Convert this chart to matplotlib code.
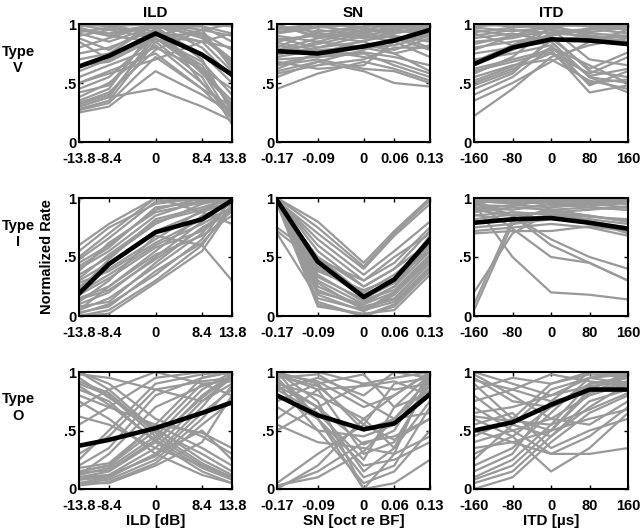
import matplotlib
matplotlib.use("Agg")
import matplotlib.pyplot as plt

plt.rcParams['font.family'] = ['Liberation Sans', 'DejaVu Sans']
plt.rcParams['font.weight'] = 'bold'

# stimulus values (x axes)
ild_x = [-13.8, -8.4, 0, 8.4, 13.8]
sn_x = [-0.17, -0.09, 0, 0.06, 0.13]
itd_x = [-160, -80, 0, 80, 160]
ild_labels = ['-13.8', '-8.4', '0', '8.4', '13.8']
sn_labels = ['-0.17', '-0.09', '0', '0.06', '0.13']
itd_labels = ['-160', '-80', '0', '80', '160']

col_titles = ['ILD', 'SN', 'ITD']
x_titles = ['ILD [dB]', 'SN [oct re BF]', 'ITD [\u00b5s]']
row_titles = ['Type\nV', 'Type\nI', 'Type\nO']

# ---- Type V ----
ild_v_gray = [
    [1.0, 0.98, 1.0, 0.95, 0.9], [0.95, 0.9, 1.0, 0.98, 0.85],
    [0.92, 0.85, 0.98, 0.9, 0.7], [0.9, 0.95, 0.88, 0.6, 0.35],
    [0.85, 0.7, 0.95, 0.62, 0.3], [0.3, 0.38, 0.92, 0.6, 0.2],
    [0.28, 0.35, 0.85, 0.55, 0.15], [0.35, 0.45, 0.98, 0.7, 0.25],
    [0.25, 0.3, 0.6, 0.4, 0.25], [0.3, 0.38, 0.45, 0.3, 0.18],
    [0.5, 0.6, 0.75, 0.45, 0.3], [0.55, 0.65, 0.8, 0.62, 0.45],
    [0.6, 0.7, 0.9, 0.85, 0.6], [0.7, 0.75, 1.0, 0.8, 0.55],
    [0.75, 0.8, 0.95, 0.75, 0.5], [0.98, 1.0, 0.9, 1.0, 0.98],
    [0.97, 0.9, 0.85, 0.95, 1.0], [0.88, 0.78, 1.0, 0.5, 0.25],
    [0.45, 0.55, 0.9, 0.92, 0.65], [0.33, 0.42, 0.78, 0.95, 0.62],
    [0.5, 0.58, 0.7, 0.85, 0.92], [0.65, 0.68, 0.88, 0.68, 0.4],
    [0.42, 0.48, 0.95, 0.58, 0.32], [0.8, 0.88, 1.0, 0.92, 0.78],
    [0.99, 0.95, 0.97, 0.98, 0.92], [0.93, 0.97, 0.94, 0.85, 0.8],
    [0.96, 0.92, 1.0, 0.88, 0.68], [0.32, 0.4, 0.88, 0.65, 0.28],
    [0.38, 0.5, 0.82, 0.5, 0.22], [0.27, 0.33, 0.72, 0.45, 0.2],
]
ild_v_mean = [0.64, 0.73, 0.92, 0.74, 0.57]

sn_v_gray = [
    [0.95, 0.98, 1.0, 0.95, 1.0], [0.9, 0.85, 0.95, 1.0, 0.98],
    [0.85, 0.92, 0.88, 0.92, 1.0], [0.8, 0.95, 0.9, 0.95, 0.9],
    [0.75, 0.85, 0.8, 0.75, 0.82], [0.7, 0.72, 0.75, 0.65, 0.55],
    [0.65, 0.7, 0.62, 0.6, 0.5], [0.6, 0.68, 0.6, 0.5, 0.47],
    [0.45, 0.58, 0.68, 0.62, 0.52], [0.58, 0.65, 0.7, 0.8, 0.8],
    [0.62, 0.75, 0.82, 0.78, 0.88], [0.98, 0.9, 0.85, 0.95, 1.0],
    [1.0, 0.88, 0.92, 0.98, 0.95], [0.88, 0.8, 0.9, 0.85, 0.72],
    [0.92, 0.97, 1.0, 0.98, 1.0], [0.72, 0.78, 0.72, 0.68, 0.58],
    [0.68, 0.62, 0.65, 0.85, 0.92], [0.82, 0.75, 0.86, 0.9, 0.85],
    [0.78, 0.88, 0.95, 0.92, 0.97], [0.55, 0.68, 0.78, 0.88, 0.9],
    [0.96, 1.0, 0.97, 0.9, 0.8], [0.74, 0.8, 0.85, 0.75, 0.6],
    [0.98, 0.93, 0.98, 1.0, 0.97], [0.93, 0.98, 0.93, 0.97, 1.0],
    [0.87, 0.9, 0.97, 0.93, 0.95], [0.84, 0.78, 0.8, 0.82, 0.9],
    [0.66, 0.74, 0.76, 0.72, 0.65], [0.77, 0.83, 0.92, 0.88, 0.78],
]
sn_v_mean = [0.77, 0.75, 0.81, 0.86, 0.95]

itd_v_gray = [
    [1.0, 0.98, 1.0, 0.98, 0.95], [0.95, 0.9, 0.98, 1.0, 0.95],
    [0.9, 0.95, 0.92, 0.95, 1.0], [0.85, 0.88, 0.95, 0.88, 0.9],
    [0.8, 0.85, 0.9, 0.6, 0.55], [0.75, 0.8, 0.85, 0.55, 0.5],
    [0.7, 0.75, 0.82, 0.48, 0.6], [0.62, 0.7, 0.78, 0.42, 0.48],
    [0.55, 0.65, 0.7, 0.52, 0.45], [0.5, 0.62, 0.75, 0.58, 0.72],
    [0.45, 0.58, 0.88, 0.62, 0.76], [0.4, 0.55, 0.8, 0.65, 0.5],
    [0.22, 0.45, 0.72, 0.82, 0.88], [0.35, 0.5, 0.68, 0.85, 0.95],
    [0.58, 0.72, 0.98, 1.0, 0.98], [0.65, 0.78, 0.92, 0.9, 0.85],
    [0.88, 0.92, 0.85, 0.55, 0.42], [0.98, 1.0, 0.95, 0.92, 0.9],
    [0.78, 0.9, 1.0, 0.98, 1.0], [0.48, 0.6, 0.86, 0.9, 0.82],
    [0.92, 0.82, 0.9, 0.96, 0.98], [0.68, 0.82, 0.96, 0.7, 0.65],
    [0.97, 0.94, 0.97, 0.93, 0.97], [0.83, 0.9, 0.93, 0.96, 0.92],
    [0.6, 0.68, 0.76, 0.5, 0.53], [0.52, 0.64, 0.8, 0.56, 0.62],
    [0.93, 0.97, 0.99, 0.9, 0.88],
]
itd_v_mean = [0.66, 0.8, 0.87, 0.86, 0.83]

# ---- Type I ----
ild_i_gray = [
    [0.0, 0.05, 0.3, 0.6, 0.95], [0.02, 0.1, 0.35, 0.65, 1.0],
    [0.05, 0.15, 0.42, 0.7, 0.98], [0.1, 0.2, 0.5, 0.8, 1.0],
    [0.15, 0.25, 0.55, 0.85, 0.95], [0.2, 0.35, 0.6, 0.78, 0.92],
    [0.25, 0.4, 0.65, 0.9, 1.0], [0.3, 0.45, 0.72, 0.88, 0.97],
    [0.35, 0.5, 0.78, 0.95, 1.0], [0.4, 0.55, 0.85, 0.98, 0.98],
    [0.45, 0.6, 0.9, 1.0, 1.0], [0.5, 0.7, 1.0, 0.98, 0.95],
    [0.55, 0.75, 0.95, 1.0, 0.98], [0.6, 0.78, 1.0, 0.88, 0.78],
    [0.12, 0.3, 0.68, 0.6, 0.3], [0.08, 0.12, 0.45, 0.75, 0.88],
    [0.0, 0.02, 0.28, 0.55, 0.92], [0.18, 0.32, 0.58, 0.72, 0.9],
    [0.22, 0.48, 0.82, 0.92, 1.0], [0.38, 0.62, 0.88, 0.96, 0.99],
    [0.28, 0.38, 0.62, 0.82, 0.9], [0.05, 0.25, 0.52, 0.68, 0.85],
    [0.03, 0.08, 0.38, 0.62, 0.9], [0.42, 0.58, 0.92, 0.97, 1.0],
    [0.32, 0.52, 0.8, 0.9, 0.96], [0.14, 0.22, 0.48, 0.74, 0.93],
    [0.48, 0.66, 0.97, 1.0, 0.99],
]
ild_i_mean = [0.19, 0.44, 0.71, 0.82, 0.98]

sn_i_gray = [
    [1.0, 0.8, 0.45, 0.72, 1.0], [1.0, 0.75, 0.42, 0.7, 0.98],
    [0.98, 0.7, 0.4, 0.68, 0.95], [1.0, 0.6, 0.3, 0.5, 0.7],
    [0.95, 0.5, 0.25, 0.4, 0.62], [1.0, 0.4, 0.2, 0.35, 0.6],
    [0.98, 0.35, 0.12, 0.25, 0.55], [1.0, 0.3, 0.1, 0.2, 0.5],
    [0.97, 0.25, 0.08, 0.15, 0.45], [1.0, 0.1, 0.0, 0.1, 0.4],
    [0.95, 0.08, 0.02, 0.05, 0.35], [0.72, 0.45, 0.15, 0.28, 0.58],
    [0.75, 0.5, 0.18, 0.3, 0.62], [0.7, 0.15, 0.05, 0.2, 0.5],
    [1.0, 0.55, 0.25, 0.4, 0.72], [0.98, 0.42, 0.16, 0.3, 0.68],
    [1.0, 0.2, 0.1, 0.25, 0.62], [0.99, 0.38, 0.22, 0.32, 0.55],
    [1.0, 0.28, 0.05, 0.12, 0.42], [0.96, 0.48, 0.3, 0.45, 0.75],
    [1.0, 0.12, 0.0, 0.08, 0.38], [0.99, 0.65, 0.35, 0.55, 0.8],
    [0.97, 0.18, 0.04, 0.18, 0.48], [1.0, 0.33, 0.14, 0.22, 0.52],
    [0.96, 0.22, 0.07, 0.14, 0.46],
]
sn_i_mean = [0.98, 0.46, 0.16, 0.31, 0.65]

itd_i_gray = [
    [1.0, 0.98, 1.0, 0.98, 0.95], [0.98, 0.95, 0.97, 1.0, 0.98],
    [0.95, 1.0, 0.96, 0.95, 0.92], [0.92, 0.9, 0.95, 0.92, 0.9],
    [0.9, 0.85, 0.88, 0.9, 0.93], [0.88, 0.92, 0.9, 0.85, 0.8],
    [0.85, 0.88, 0.86, 0.82, 0.78], [0.8, 0.82, 0.85, 0.78, 0.75],
    [0.75, 0.78, 0.82, 0.8, 0.7], [0.72, 0.75, 0.78, 0.75, 0.68],
    [0.05, 0.78, 0.85, 0.85, 0.8], [0.1, 0.82, 0.9, 0.92, 0.9],
    [0.2, 0.7, 0.88, 0.8, 0.75], [0.95, 0.85, 0.6, 0.45, 0.3],
    [0.95, 0.5, 0.2, 0.18, 0.14], [0.97, 0.74, 0.5, 0.45, 0.3],
    [0.98, 0.85, 0.65, 0.5, 0.4], [0.7, 0.72, 0.72, 0.76, 0.72],
    [0.97, 0.96, 0.98, 0.96, 1.0], [0.86, 0.8, 0.92, 0.95, 0.97],
    [0.99, 0.97, 0.98, 0.99, 0.97], [0.94, 0.93, 0.99, 0.97, 0.95],
    [0.96, 0.98, 0.94, 0.93, 0.96], [0.9, 0.94, 0.92, 0.96, 0.98],
    [0.82, 0.86, 0.88, 0.84, 0.82],
]
itd_i_mean = [0.79, 0.82, 0.83, 0.79, 0.74]

# ---- Type O ----
ild_o_gray = [
    [0.05, 0.1, 0.3, 0.7, 1.0], [0.08, 0.12, 0.35, 0.75, 0.95],
    [0.1, 0.15, 0.4, 0.8, 0.98], [0.12, 0.18, 0.45, 0.85, 1.0],
    [0.15, 0.2, 0.5, 0.9, 0.92], [0.05, 0.08, 0.25, 0.6, 0.88],
    [0.18, 0.22, 0.55, 0.95, 1.0], [0.1, 0.12, 0.28, 0.65, 0.85],
    [0.9, 0.8, 0.45, 0.2, 0.1], [0.85, 0.75, 0.4, 0.15, 0.05],
    [1.0, 0.85, 0.5, 0.3, 0.15], [0.95, 0.78, 0.52, 0.25, 0.12],
    [0.8, 0.7, 0.55, 0.35, 0.2], [1.0, 0.9, 0.6, 0.45, 0.3],
    [0.75, 0.6, 0.3, 0.12, 0.05], [0.2, 0.35, 0.8, 0.95, 1.0],
    [0.3, 0.45, 0.85, 0.92, 0.95], [0.55, 0.7, 0.95, 1.0, 0.98],
    [0.7, 0.85, 1.0, 0.9, 0.8], [0.15, 0.2, 0.55, 0.48, 0.35],
    [0.05, 0.05, 0.2, 0.4, 0.8], [0.12, 0.3, 0.7, 0.88, 0.95],
    [0.25, 0.5, 0.9, 0.98, 1.0], [0.08, 0.1, 0.3, 0.5, 0.25],
    [0.98, 0.95, 0.85, 0.75, 0.9], [0.62, 0.55, 0.35, 0.2, 0.1],
    [0.03, 0.06, 0.22, 0.55, 0.75], [0.14, 0.16, 0.42, 0.78, 0.97],
    [0.88, 0.72, 0.42, 0.18, 0.08], [0.92, 0.82, 0.48, 0.22, 0.1],
]
ild_o_mean = [0.37, 0.42, 0.52, 0.65, 0.74]

sn_o_gray = [
    [1.0, 0.9, 0.5, 0.6, 0.95], [0.98, 0.85, 0.3, 0.4, 0.9],
    [1.0, 0.75, 0.0, 0.3, 1.0], [0.95, 0.6, 0.1, 0.2, 0.7],
    [0.9, 0.5, 0.05, 0.15, 0.5], [0.85, 0.95, 0.8, 1.0, 0.95],
    [1.0, 1.0, 0.9, 0.85, 0.9], [0.98, 0.92, 0.7, 0.8, 1.0],
    [0.0, 0.2, 0.6, 0.8, 1.0], [0.05, 0.3, 0.55, 0.9, 0.95],
    [0.02, 0.15, 0.4, 0.45, 0.6], [0.5, 0.7, 0.9, 0.95, 1.0],
    [0.55, 0.4, 0.35, 0.3, 0.45], [0.8, 0.6, 0.2, 0.25, 0.4],
    [0.9, 0.8, 0.6, 0.35, 0.75], [0.75, 0.9, 0.98, 0.7, 0.82],
    [1.0, 0.6, 0.0, 0.05, 0.25], [0.7, 0.5, 0.45, 0.55, 0.85],
    [0.95, 0.98, 0.75, 0.6, 0.65], [0.85, 0.65, 0.25, 0.7, 0.98],
    [0.6, 0.85, 0.88, 0.92, 0.8], [0.92, 0.7, 0.38, 0.5, 1.0],
    [0.97, 0.88, 0.55, 0.42, 0.6], [0.03, 0.1, 0.32, 0.6, 0.88],
    [0.88, 0.7, 0.15, 0.35, 0.95],
]
sn_o_mean = [0.8, 0.63, 0.51, 0.56, 0.81]

itd_o_gray = [
    [1.0, 0.9, 0.8, 0.95, 1.0], [0.95, 0.75, 0.7, 0.9, 0.95],
    [0.9, 0.6, 0.5, 0.85, 0.98], [0.8, 0.55, 0.45, 0.7, 0.9],
    [0.7, 0.5, 0.3, 0.3, 0.35], [0.6, 0.45, 0.15, 0.35, 0.65],
    [0.5, 0.4, 0.3, 0.45, 0.7], [0.4, 0.5, 0.6, 0.8, 0.9],
    [0.3, 0.45, 0.7, 0.85, 1.0], [0.2, 0.35, 0.65, 0.95, 0.98],
    [0.1, 0.25, 0.55, 0.9, 0.95], [0.05, 0.15, 0.45, 0.75, 0.85],
    [0.0, 0.1, 0.4, 0.65, 0.8], [0.15, 0.3, 0.75, 1.0, 1.0],
    [0.25, 0.55, 0.85, 0.95, 0.9], [0.85, 0.95, 0.9, 1.0, 0.98],
    [0.65, 0.7, 0.8, 0.88, 0.92], [0.98, 0.8, 0.6, 0.55, 0.75],
    [0.45, 0.6, 0.9, 0.98, 0.96], [0.35, 0.4, 0.5, 0.6, 0.68],
    [0.75, 0.85, 0.98, 0.92, 0.88], [0.55, 0.65, 0.35, 0.5, 0.6],
    [0.93, 0.85, 0.75, 0.82, 0.96], [0.08, 0.2, 0.5, 0.82, 0.92],
    [0.62, 0.58, 0.55, 0.68, 0.82],
]
itd_o_mean = [0.5, 0.57, 0.72, 0.85, 0.85]

panels = [
    [(ild_v_gray, ild_v_mean), (sn_v_gray, sn_v_mean), (itd_v_gray, itd_v_mean)],
    [(ild_i_gray, ild_i_mean), (sn_i_gray, sn_i_mean), (itd_i_gray, itd_i_mean)],
    [(ild_o_gray, ild_o_mean), (sn_o_gray, sn_o_mean), (itd_o_gray, itd_o_mean)],
]
xs = [ild_x, sn_x, itd_x]
xlabels = [ild_labels, sn_labels, itd_labels]

W, H = 640, 532
fig = plt.figure(figsize=(W / 100, H / 100), dpi=100)

# axes boxes in pixels: left/right per column, top/bottom per row
col_px = [(79, 232), (277, 430), (474, 628)]
row_px = [(24, 142), (198, 316), (372, 489)]

for r in range(3):
    for c in range(3):
        x0, x1 = col_px[c]
        y0, y1 = row_px[r]
        ax = fig.add_axes([x0 / W, 1 - y1 / H, (x1 - x0) / W, (y1 - y0) / H])
        gray, mean = panels[r][c]
        for g in gray:
            ax.plot(xs[c], g, color='#999999', lw=1.6)
        ax.plot(xs[c], mean, color='black', lw=3.3)
        ax.set_xlim(xs[c][0], xs[c][-1])
        ax.set_ylim(0, 1)
        ax.set_xticks(xs[c])
        ax.set_xticklabels(xlabels[c])
        ax.set_yticks([0, 0.5, 1])
        ax.set_yticklabels(['0', '.5', '1'])
        ax.tick_params(direction='in', length=3, width=1, top=True, right=True,
                       labelsize=10.5)
        ax.tick_params(axis='x', pad=7)
        ax.tick_params(axis='y', pad=2)
        for lab in ax.get_xticklabels() + ax.get_yticklabels():
            lab.set_fontweight('bold')
        for sp in ax.spines.values():
            sp.set_linewidth(1.5)
        if r == 0:
            ax.set_title(col_titles[c], fontsize=11, fontweight='bold', pad=5)
        if r == 2:
            ax.set_xlabel(x_titles[c], fontsize=11, fontweight='bold', labelpad=1)

# row labels
for r, (y0, y1) in enumerate(row_px):
    yc = (y0 + y1) / 2 - 23
    fig.text(18 / W, 1 - yc / H, row_titles[r], ha='center', va='center',
             fontsize=10.5, fontweight='bold', linespacing=1.2)

fig.text(47 / W, 1 - 257 / H, 'Normalized Rate', rotation=90, ha='center',
         va='center', fontsize=10.5, fontweight='bold')

fig.savefig('out.png', dpi=100)
